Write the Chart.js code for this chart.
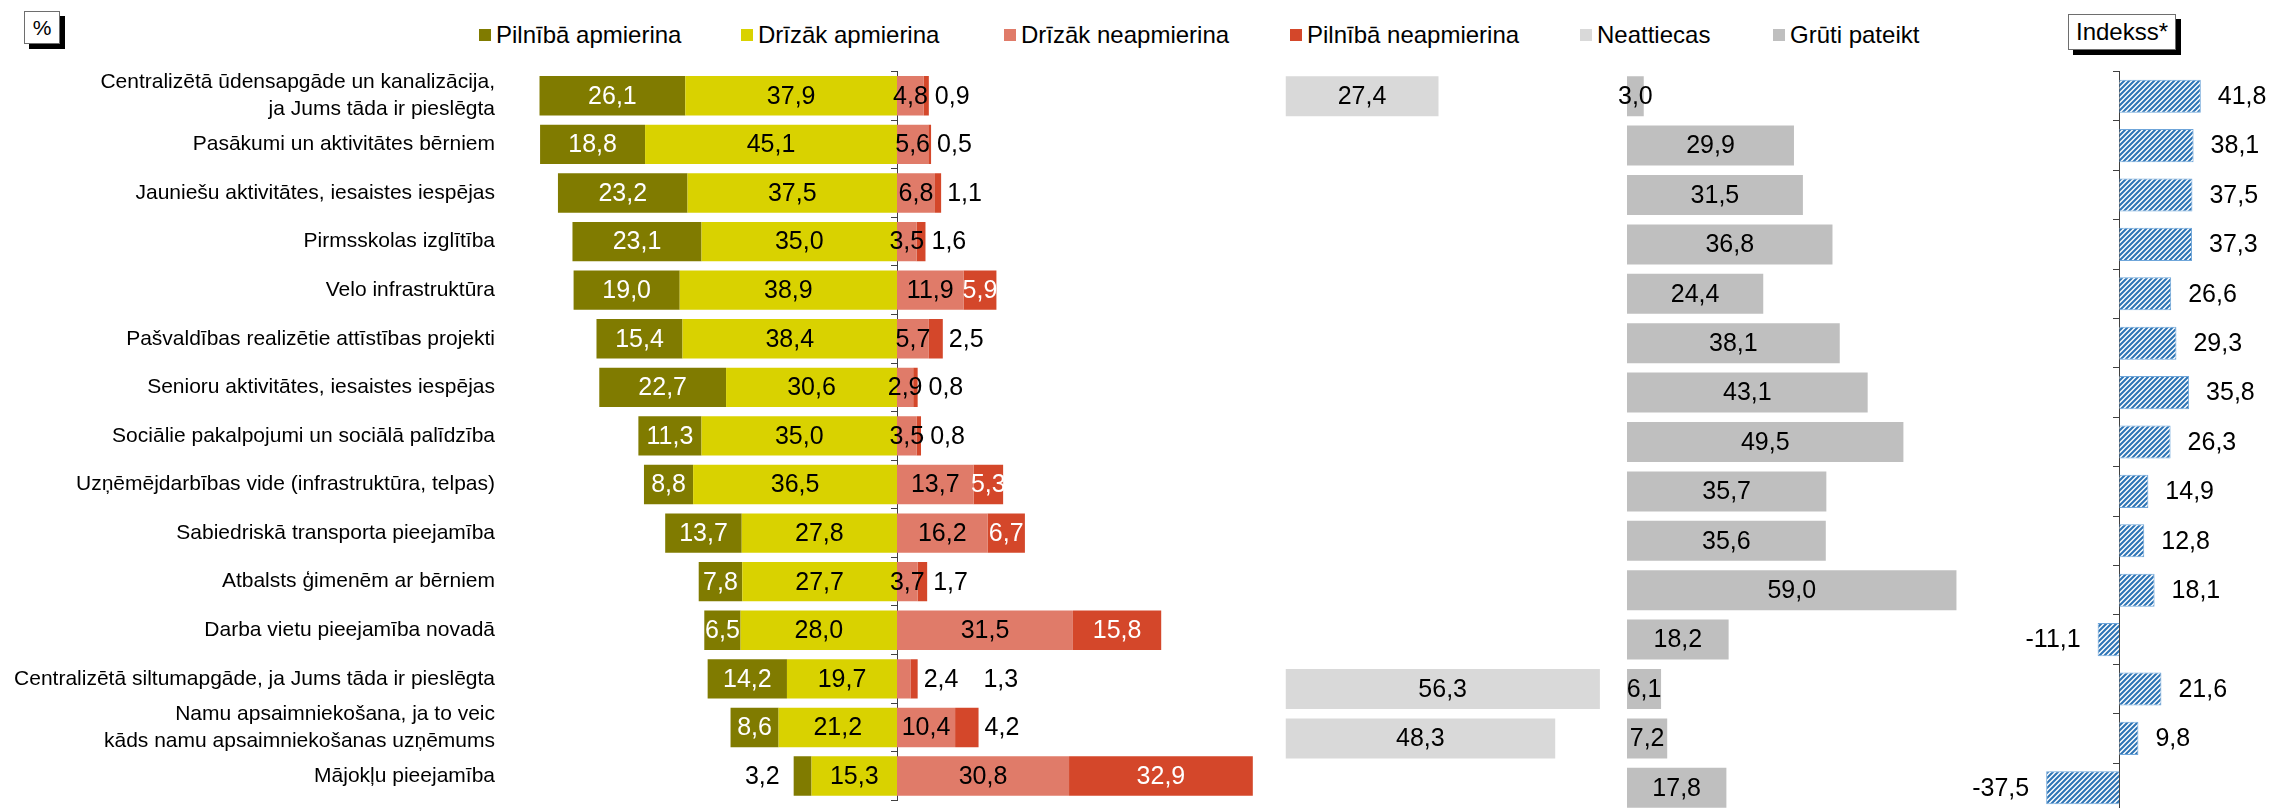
<!DOCTYPE html>
<html>
<head>
<meta charset="utf-8">
<title>Apmierinātība</title>
<script src="https://cdn.jsdelivr.net/npm/chart.js@4.4.1/dist/chart.umd.min.js"></script>
<style>
  html, body { margin: 0; padding: 0; background: #fff; width: 2275px; height: 808px; overflow: hidden; }
  #wrap { position: relative; width: 2275px; height: 808px; overflow: hidden; font-family: 'Liberation Sans', Arial, sans-serif; color: #000; }
  #wrap canvas { position: absolute; left: 0; top: 0; }
  .lg { position: absolute; top: 34.5px; transform: translateY(-50%); font-size: 24px; line-height: 1; white-space: nowrap; display: flex; align-items: center; }
  .lg i { display: inline-block; width: 12px; height: 12px; margin-right: 5px; }
  .box { position: absolute; box-sizing: border-box; border: 1px solid #6e6e6e; background: #fff; box-shadow: 5px 5px 0 #000; display: flex; align-items: center; justify-content: center; line-height: 1; }
</style>
</head>
<body>
<div id="wrap">
  <div class="box" style="left:24px;top:11px;width:36px;height:33px;font-size:21px;">%</div>
  <div class="box" style="left:2068px;top:14px;width:108px;height:36px;font-size:24px;">Indekss*</div>
  <div id="legend"></div>
</div>
<script>
// ---------------- DATA ----------------
const categories = [
  ['Centralizētā ūdensapgāde un kanalizācija,', 'ja Jums tāda ir pieslēgta'],
  'Pasākumi un aktivitātes bērniem',
  'Jauniešu aktivitātes, iesaistes iespējas',
  'Pirmsskolas izglītība',
  'Velo infrastruktūra',
  'Pašvaldības realizētie attīstības projekti',
  'Senioru aktivitātes, iesaistes iespējas',
  'Sociālie pakalpojumi un sociālā palīdzība',
  'Uzņēmējdarbības vide (infrastruktūra, telpas)',
  'Sabiedriskā transporta pieejamība',
  'Atbalsts ģimenēm ar bērniem',
  'Darba vietu pieejamība novadā',
  'Centralizētā siltumapgāde, ja Jums tāda ir pieslēgta',
  ['Namu apsaimniekošana, ja to veic', 'kāds namu apsaimniekošanas uzņēmums'],
  'Mājokļu pieejamība'
];
const seriesNames = ['Pilnībā apmierina', 'Drīzāk apmierina', 'Drīzāk neapmierina', 'Pilnībā neapmierina', 'Neattiecas', 'Grūti pateikt'];
const fullySatisfied     = [26.1, 18.8, 23.2, 23.1, 19.0, 15.4, 22.7, 11.3, 8.8, 13.7, 7.8, 6.5, 14.2, 8.6, 3.2];
const ratherSatisfied    = [37.9, 45.1, 37.5, 35.0, 38.9, 38.4, 30.6, 35.0, 36.5, 27.8, 27.7, 28.0, 19.7, 21.2, 15.3];
const ratherDissatisfied = [4.8, 5.6, 6.8, 3.5, 11.9, 5.7, 2.9, 3.5, 13.7, 16.2, 3.7, 31.5, 2.4, 10.4, 30.8];
const fullyDissatisfied  = [0.9, 0.5, 1.1, 1.6, 5.9, 2.5, 0.8, 0.8, 5.3, 6.7, 1.7, 15.8, 1.3, 4.2, 32.9];
const notApplicable      = [27.4, null, null, null, null, null, null, null, null, null, null, null, 56.3, 48.3, null];
const hardToSay          = [3.0, 29.9, 31.5, 36.8, 24.4, 38.1, 43.1, 49.5, 35.7, 35.6, 59.0, 18.2, 6.1, 7.2, 17.8];
const indexValues        = [41.8, 38.1, 37.5, 37.3, 26.6, 29.3, 35.8, 26.3, 14.9, 12.8, 18.1, -11.1, 21.6, 9.8, -37.5];

// ---------------- STYLE ----------------
const FONT = "'Liberation Sans', Arial, sans-serif";
const COLORS = ['#807b00', '#d9d200', '#e07b69', '#d4472a', '#d9d9d9', '#bfbfbf'];
const W = 2275, H = 830;
const TOP = 71.5, BOTTOM = 812.5;
const PAD_TOP = TOP, PAD_BOTTOM = H - BOTTOM;
const AXIS_COLOR = '#404040';

// legend (HTML text)
const legendLefts = [479, 741, 1004, 1290, 1580, 1773];
const legend = document.getElementById('legend');
seriesNames.forEach((name, i) => {
  const d = document.createElement('div');
  d.className = 'lg';
  d.style.left = legendLefts[i] + 'px';
  d.innerHTML = '<i style="background:' + COLORS[i] + '"></i><span></span>';
  d.querySelector('span').textContent = name;
  legend.appendChild(d);
});

const wrap = document.getElementById('wrap');
function makeCanvas() {
  const c = document.createElement('canvas');
  c.width = W; c.height = H;
  c.style.width = W + 'px'; c.style.height = H + 'px';
  wrap.appendChild(c);
  return c;
}

function fmt(v, signed) {
  const n = signed ? v : Math.abs(v);
  return n.toFixed(1).replace('.', ',');
}

// value label plugin
const valueLabels = {
  id: 'valueLabels',
  afterDatasetsDraw(chart) {
    const ctx = chart.ctx;
    ctx.save();
    ctx.font = '25px ' + FONT;
    ctx.textBaseline = 'middle';
    const rightEdge = {};
    const prevOutside = {};
    const stackEnd = (i) => {
      let m = -Infinity;
      chart.data.datasets.forEach((ds, di) => {
        const v = ds.data[i];
        if (v !== null && v > 0) m = Math.max(m, chart.getDatasetMeta(di).data[i].x);
      });
      return m;
    };
    chart.data.datasets.forEach((ds, di) => {
      const lab = ds.valueLabel;
      if (!lab) return;
      const meta = chart.getDatasetMeta(di);
      meta.data.forEach((bar, i) => {
        const v = ds.data[i];
        if (v === null || v === undefined) return;
        const text = fmt(v, lab.signed);
        const w = ctx.measureText(text).width;
        const y = bar.y + 1;
        let x, align = 'center', color = lab.color;
        if (lab.mode === 'end') {
          color = '#000';
          if (v >= 0) { x = bar.x + lab.gap; align = 'left'; }
          else { x = bar.x - lab.gap; align = 'right'; }
        } else if (Math.abs(v) < (lab.outsideBelow || 0)) {
          color = '#000';
          if (lab.outside === 'left') {
            x = bar.x - 14; align = 'right';
          } else {
            const end = stackEnd(i);
            const prev = rightEdge[i] === undefined ? -Infinity : rightEdge[i] + (prevOutside[i] ? 25 : 6);
            const start = Math.max(end + 6, prev);
            x = start; align = 'left';
            rightEdge[i] = start + w;
            prevOutside[i] = true;
          }
        } else {
          x = (bar.x + bar.base) / 2;
          if (lab.track) rightEdge[i] = Math.max(rightEdge[i] === undefined ? -Infinity : rightEdge[i], x + w / 2);
        }
        ctx.fillStyle = color;
        ctx.textAlign = align;
        ctx.fillText(text, x, y);
      });
    });
    ctx.restore();
  }
};

function zeroAxis() {
  return {
    type: 'category',
    position: { x: 0 },
    offset: true,
    grid: { offset: true, drawOnChartArea: false, drawTicks: true, tickLength: 6, color: AXIS_COLOR, lineWidth: 1 },
    border: { display: true, color: AXIS_COLOR, width: 1 },
    ticks: { display: false, autoSkip: false }
  };
}

const common = {
  indexAxis: 'y',
  responsive: false,
  animation: false,
  devicePixelRatio: 1,
  events: [],
  plugins: { legend: { display: false }, tooltip: { enabled: false } }
};

// ---------------- MAIN DIVERGING CHART ----------------
const mainLeft = 506, mainRight = 1288;
new Chart(makeCanvas(), {
  type: 'bar',
  data: {
    labels: categories,
    datasets: [
      { label: seriesNames[1], data: ratherSatisfied.map(v => -v), backgroundColor: COLORS[1],
        valueLabel: { color: '#000' } },
      { label: seriesNames[0], data: fullySatisfied.map(v => -v), backgroundColor: COLORS[0],
        valueLabel: { color: '#fff', outsideBelow: 5, outside: 'left' } },
      { label: seriesNames[2], data: ratherDissatisfied, backgroundColor: COLORS[2],
        valueLabel: { color: '#000', outsideBelow: 2.5, outside: 'right', track: true } },
      { label: seriesNames[3], data: fullyDissatisfied, backgroundColor: COLORS[3],
        valueLabel: { color: '#fff', outsideBelow: 5, outside: 'right', track: true } }
    ]
  },
  options: Object.assign({}, common, {
    layout: { padding: { left: 0, right: W - mainRight, top: PAD_TOP, bottom: PAD_BOTTOM } },
    datasets: { bar: { barPercentage: 0.81, categoryPercentage: 1 } },
    scales: {
      x: { type: 'linear', min: -70, max: 70, stacked: true, display: false },
      y: {
        stacked: true, position: 'left',
        grid: { display: false }, border: { display: false },
        ticks: { padding: 3, color: '#000', autoSkip: false, font: { family: FONT, size: 21, lineHeight: 1.27 } },
        afterFit(s) { s.width = mainLeft; }
      },
      y2: zeroAxis()
    }
  }),
  plugins: [valueLabels]
});

// ---------------- NEATTIECAS ----------------
const naLeft = 1285.5, naRight = naLeft + 60 * 5.584;
new Chart(makeCanvas(), {
  type: 'bar',
  data: { labels: categories, datasets: [
    { label: seriesNames[4], data: notApplicable, backgroundColor: COLORS[4], valueLabel: { color: '#000' } }
  ] },
  options: Object.assign({}, common, {
    layout: { padding: { left: naLeft, right: W - naRight, top: PAD_TOP, bottom: PAD_BOTTOM } },
    datasets: { bar: { barPercentage: 0.81, categoryPercentage: 1 } },
    scales: { x: { type: 'linear', min: 0, max: 60, display: false }, y: { display: false } }
  }),
  plugins: [valueLabels]
});

// ---------------- GRŪTI PATEIKT ----------------
const hsLeft = 1627, hsRight = hsLeft + 60 * 5.584;
new Chart(makeCanvas(), {
  type: 'bar',
  data: { labels: categories, datasets: [
    { label: seriesNames[5], data: hardToSay, backgroundColor: COLORS[5], valueLabel: { color: '#000' } }
  ] },
  options: Object.assign({}, common, {
    layout: { padding: { left: hsLeft, right: W - hsRight, top: PAD_TOP, bottom: PAD_BOTTOM } },
    datasets: { bar: { barPercentage: 0.81, categoryPercentage: 1 } },
    scales: { x: { type: 'linear', min: 0, max: 60, display: false }, y: { display: false } }
  }),
  plugins: [valueLabels]
});

// ---------------- INDEKSS ----------------
function hatchPattern() {
  const s = 5;
  const c = document.createElement('canvas');
  c.width = s; c.height = s;
  const g = c.getContext('2d');
  g.fillStyle = '#ffffff'; g.fillRect(0, 0, s, s);
  g.strokeStyle = '#2e75b6'; g.lineWidth = 2.1;
  g.beginPath();
  g.moveTo(-1, s + 1); g.lineTo(s + 1, -1);
  g.moveTo(-1, 1); g.lineTo(1, -1);
  g.moveTo(s - 1, s + 1); g.lineTo(s + 1, s - 1);
  g.stroke();
  return g.createPattern(c, 'repeat');
}
const idxZero = 2119.3, idxScale = 1.95;
const idxLeft = idxZero - 50 * idxScale, idxRight = idxZero + 50 * idxScale;
new Chart(makeCanvas(), {
  type: 'bar',
  data: { labels: categories, datasets: [
    { label: 'Indekss*', data: indexValues, backgroundColor: hatchPattern(), borderColor: '#6fa6da', borderWidth: 1,
      valueLabel: { mode: 'end', gap: 17, signed: true } }
  ] },
  options: Object.assign({}, common, {
    layout: { padding: { left: idxLeft, right: W - idxRight, top: PAD_TOP, bottom: PAD_BOTTOM } },
    datasets: { bar: { barPercentage: 0.67, categoryPercentage: 1 } },
    scales: {
      x: { type: 'linear', min: -50, max: 50, display: false },
      y: { display: false },
      y2: zeroAxis()
    }
  }),
  plugins: [valueLabels]
});
</script>
</body>
</html>
